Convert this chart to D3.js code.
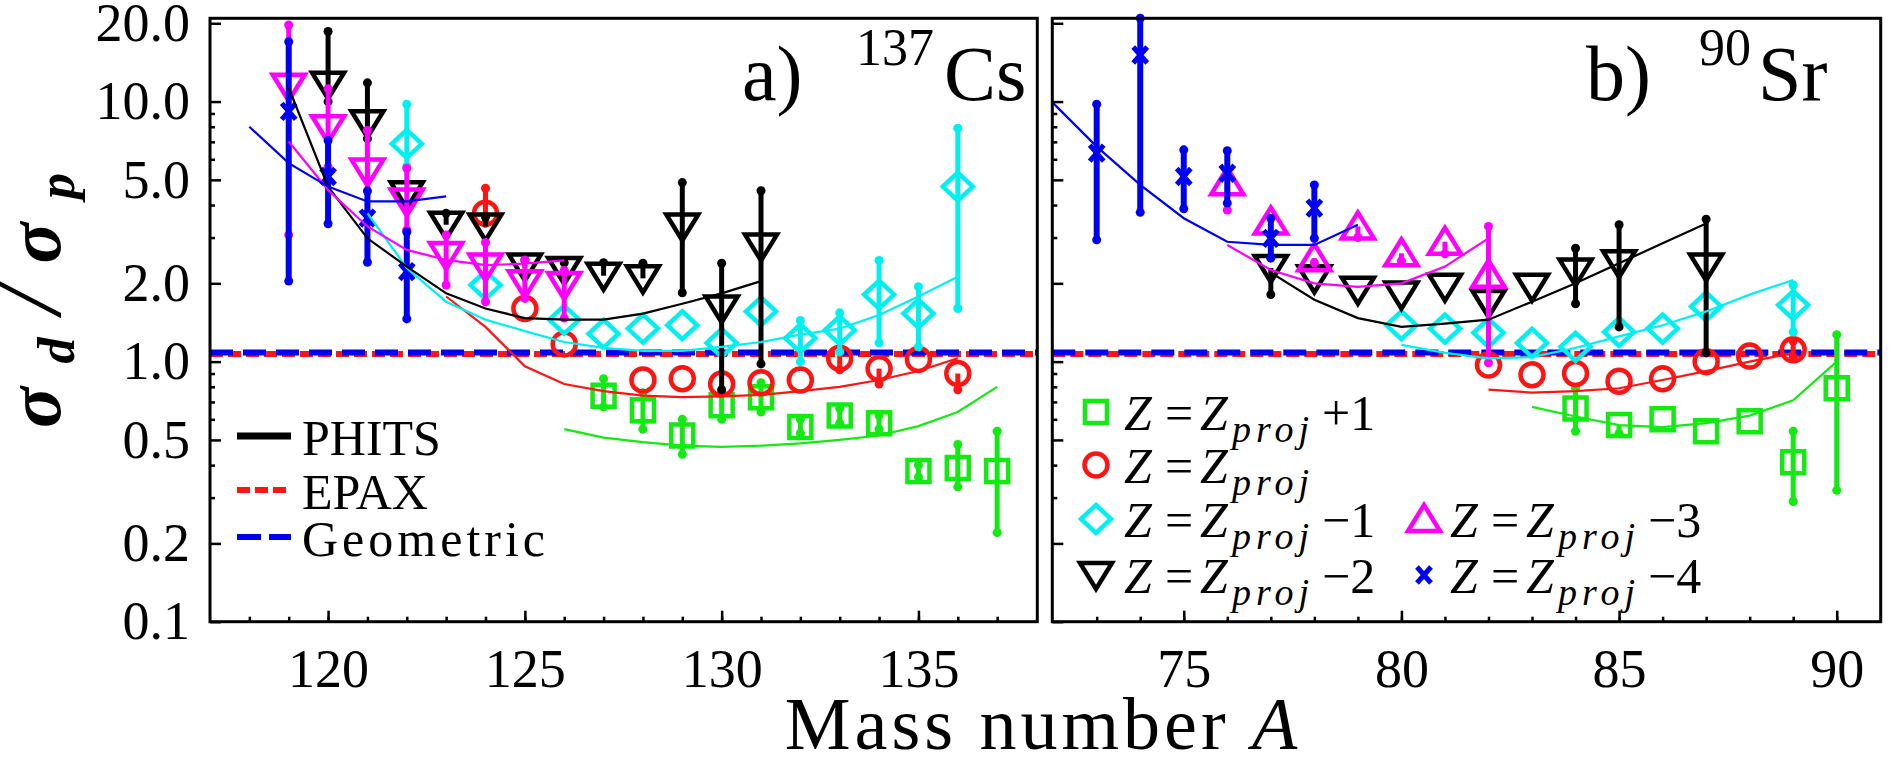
<!DOCTYPE html>
<html><head><meta charset="utf-8">
<script src="https://cdn.jsdelivr.net/npm/d3@7"></script>
<style>
body{margin:0;background:#fff;}
svg{display:block;}
text{font-family:"Liberation Serif","Times New Roman",serif;fill:#000;}
</style></head><body>
<svg id="chart" width="1892" height="765"></svg>
<script>
// ---------- axis values ----------
const yTickValues = [0.1, 0.2, 0.5, 1, 2, 5, 10, 20];
const yTickLabels = ["0.1", "0.2", "0.5", "1.0", "2.0", "5.0", "10.0", "20.0"];
const yMinorValues = [0.3, 0.4, 0.6, 0.7, 0.8, 0.9, 3, 4, 6, 7, 8, 9];
const csTicks = [120, 125, 130, 135];
const srTicks = [75, 80, 85, 90];
const epaxRatio = 1.07;
const geomRatio = 1.085;

// ---------- measured ratios, 137Cs: [A, ratio, lower, upper] ----------
const csZp1 = [[127,0.74,0.67,0.86],[128,0.65,0.55,0.76],[129,0.52,0.44,0.60],[130,0.68,0.60,0.76],[131,0.73,0.64,0.83],[132,0.56,0.53,0.60],[133,0.62,0.58,0.66],[134,0.58,0.55,0.62],[135,0.38,0.36,0.40],[136,0.39,0.33,0.48],[137,0.38,0.22,0.54]];
const csZ   = [[124,3.72,3.40,4.64],[125,1.60,1.60,1.60],[126,1.17,1.17,1.17],[128,0.85,0.85,0.85],[129,0.86,0.86,0.86],[130,0.82,0.82,0.82],[131,0.83,0.83,0.83],[132,0.85,0.85,0.85],[133,1.03,0.93,1.12],[134,0.94,0.82,0.94],[135,1.02,1.02,1.02],[136,0.90,0.78,0.90]];
const csZm1 = [[122,6.88,5.63,9.77],[124,1.97,1.97,1.97],[126,1.45,1.45,1.45],[127,1.28,1.28,1.28],[128,1.34,1.34,1.34],[129,1.38,1.38,1.38],[130,1.18,1.18,1.18],[131,1.56,1.56,1.56],[132,1.23,1.00,1.44],[133,1.32,1.09,1.54],[134,1.81,1.18,2.45],[135,1.53,1.14,1.94],[136,4.71,1.60,7.90]];
const csZm2 = [[120,11.6,10.0,18.6],[121,8.26,7.2,11.8],[122,4.4,4.4,4.4],[123,3.36,3.36,3.72],[124,3.31,3.31,3.60],[125,2.32,2.32,2.46],[126,2.25,2.25,2.40],[127,2.14,2.14,2.40],[128,2.09,2.09,2.39],[129,3.31,1.84,4.88],[130,1.60,0.78,2.39],[131,2.77,0.98,4.54]];
const csZm3 = [[119,11.4,3.07,19.7],[120,7.9,5.6,11.2],[121,5.38,3.72,7.74],[122,4.13,3.21,5.54],[123,2.57,1.97,3.07],[124,2.32,1.70,2.87],[125,2.00,1.75,2.46],[126,1.97,1.47,2.24]];
const csZm4 = [[119,9.16,2.04,17.0],[120,5.15,3.39,7.08],[121,3.56,2.41,4.53],[122,2.22,1.46,3.15]];

// ---------- PHITS, 137Cs: [A, ratio] ----------
const csPhitsZp1 = [[126,0.55],[127,0.51],[128,0.49],[129,0.475],[130,0.47],[131,0.475],[132,0.485],[133,0.50],[134,0.52],[135,0.565],[136,0.64],[137,0.80]];
const csPhitsZ   = [[123,1.78],[124,1.36],[125,0.96],[126,0.82],[127,0.77],[128,0.74],[129,0.73],[130,0.735],[131,0.745],[132,0.77],[133,0.80],[134,0.85],[135,0.92],[136,1.03]];
const csPhitsZm1 = [[121,3.72],[122,2.29],[123,1.70],[124,1.45],[125,1.31],[126,1.19],[127,1.13],[128,1.10],[129,1.10],[130,1.14],[131,1.19],[132,1.27],[133,1.34],[134,1.51],[135,1.78],[136,2.12]];
const csPhitsZm2 = [[119,11.3],[120,4.71],[121,2.98],[122,2.32],[123,1.83],[124,1.60],[125,1.47],[126,1.45],[127,1.45],[128,1.53],[129,1.67],[130,1.83],[131,2.04]];
const csPhitsZm3 = [[119,7.02],[120,4.57],[121,3.31],[122,2.69],[123,2.46],[124,2.35],[125,2.38],[126,2.45]];
const csPhitsZm4 = [[118,8.0],[119,5.8],[120,4.71],[121,4.13],[122,4.13],[123,4.32]];

// ---------- measured ratios, 90Sr: [A, ratio, lower, upper] ----------
const srZp1 = [[84,0.66,0.54,0.79],[85,0.57,0.53,0.57],[86,0.60,0.60,0.60],[87,0.54,0.54,0.54],[88,0.59,0.59,0.59],[89,0.41,0.29,0.54],[90,0.79,0.32,1.27]];
const srZ   = [[82,0.97,0.97,0.97],[83,0.89,0.89,0.89],[84,0.90,0.90,0.90],[85,0.84,0.84,0.84],[86,0.86,0.86,0.86],[87,1.00,1.00,1.00],[88,1.05,1.05,1.05],[89,1.11,1.04,1.20]];
const srZm1 = [[80,1.38,1.38,1.38],[81,1.34,1.34,1.34],[82,1.29,1.29,1.29],[83,1.18,1.18,1.18],[84,1.14,1.14,1.14],[85,1.30,1.30,1.30],[86,1.34,1.34,1.34],[87,1.63,1.63,1.63],[89,1.65,1.30,1.97]];
const srZm2 = [[77,2.29,1.81,2.29],[78,2.09,2.09,2.09],[79,1.89,1.89,1.89],[80,1.81,1.81,1.81],[81,1.94,1.94,1.94],[82,1.68,1.68,1.68],[83,1.94,1.94,1.94],[84,2.22,1.67,2.73],[85,2.39,1.36,3.36],[87,2.32,1.08,3.53]];
const srZm3 = [[76,4.9,3.83,4.9],[77,3.46,3.46,3.46],[78,2.50,2.40,2.50],[79,3.31,3.00,3.31],[80,2.61,2.44,2.61],[81,2.89,2.60,2.89],[82,2.16,0.99,3.31]];
const srZm4 = [[73,6.33,2.94,9.77],[74,15.1,3.75,20.9],[75,5.15,3.87,6.52],[76,5.30,4.07,6.47],[77,2.98,2.50,3.56],[78,3.89,2.98,4.78]];

// ---------- PHITS, 90Sr: [A, ratio] ----------
const srPhitsZp1 = [[83,0.67],[84,0.615],[85,0.57],[86,0.56],[87,0.58],[88,0.62],[89,0.71],[90,1.0]];
const srPhitsZ   = [[82,0.78],[83,0.76],[84,0.77],[85,0.79],[86,0.85],[87,0.92],[88,1.0],[89,1.08]];
const srPhitsZm1 = [[80,1.16],[81,1.08],[82,1.03],[83,1.04],[84,1.13],[85,1.25],[86,1.38],[87,1.56],[88,1.81],[89,2.06]];
const srPhitsZm2 = [[77,2.2],[78,1.73],[79,1.47],[80,1.36],[81,1.40],[82,1.45],[83,1.70],[84,2.00],[85,2.39],[86,2.85],[87,3.40]];
const srPhitsZm3 = [[76,2.81],[77,2.25],[78,2.00],[79,1.94],[80,2.00],[81,2.32],[82,2.98]];
const srPhitsZm4 = [[72,9.86],[73,6.71],[74,4.78],[75,3.56],[76,2.89],[77,2.81],[78,2.81],[79,3.36]];

// ---------- styles ----------
const seriesOrder = ["Zp1", "Z", "Zm1", "Zm2", "Zm3", "Zm4"];
const seriesColor = {Zp1:"#12ea12", Z:"#ff1414", Zm1:"#00f0f0", Zm2:"#000000", Zm3:"#ff00ff", Zm4:"#0000f0"};
const seriesSuffix = {Zp1:"+1", Z:"", Zm1:"\u22121", Zm2:"\u22122", Zm3:"\u22123", Zm4:"\u22124"};

const markerPath = {
  square:  "M-11,-11H11V11H-11Z",
  circle:  "M11.5,0A11.5,11.5 0 1,1 -11.5,0A11.5,11.5 0 1,1 11.5,0Z",
  diamond: "M0,-14L15,0L0,14L-15,0Z",
  tdown:   "M-16,-12L16,-12L0,14Z",
  tup:     "M-16,12L16,12L0,-14Z",
  cross:   "M-7,-8L7,8M-7,8L7,-8"
};

const svg = d3.select("#chart");
const plotTop = 18.3, plotBottom = 621.7;
const y = d3.scaleLog().domain([0.1, 20.9]).range([plotBottom, plotTop]);

const panels = [
  {
    x: d3.scaleLinear().domain([117.0, 138.02]).range([210, 1037.3]),
    ticks: csTicks, minor: d3.range(118, 138), showYLabels: true,
    points: {Zp1:csZp1, Z:csZ, Zm1:csZm1, Zm2:csZm2, Zm3:csZm3, Zm4:csZm4},
    curves: {Zp1:csPhitsZp1, Z:csPhitsZ, Zm1:csPhitsZm1, Zm2:csPhitsZm2, Zm3:csPhitsZm3, Zm4:csPhitsZm4},
    shapes: {Zp1:"square", Z:"circle", Zm1:"diamond", Zm2:"tdown", Zm3:"tdown", Zm4:"cross"}
  },
  {
    x: d3.scaleLinear().domain([71.98, 91.01]).range([1052.3, 1880.7]),
    ticks: srTicks, minor: d3.range(73, 91), showYLabels: false,
    points: {Zp1:srZp1, Z:srZ, Zm1:srZm1, Zm2:srZm2, Zm3:srZm3, Zm4:srZm4},
    curves: {Zp1:srPhitsZp1, Z:srPhitsZ, Zm1:srPhitsZm1, Zm2:srPhitsZm2, Zm3:srPhitsZm3, Zm4:srPhitsZm4},
    shapes: {Zp1:"square", Z:"circle", Zm1:"diamond", Zm2:"tdown", Zm3:"tup", Zm4:"cross"}
  }
];

function drawMarker(g, shape, color, cx, cy) {
  g.append("path")
    .attr("d", markerPath[shape])
    .attr("transform", `translate(${cx},${cy})`)
    .attr("fill", "none")
    .attr("stroke", color)
    .attr("stroke-width", shape === "cross" ? 5 : 4.5)
    .attr("stroke-linejoin", "miter");
}

panels.forEach(p => {
  const x = p.x;
  const [x0, x1] = x.range();
  const g = svg.append("g");

  // axes (ticks point inward)
  const styleAxis = (sel, keepText) => {
    sel.select(".domain").remove();
    sel.selectAll(".tick line").attr("stroke", "#000").attr("stroke-width", 2.5);
    if (keepText) {
      sel.selectAll(".tick text").style("font-size", "54px").style("font-family", '"Liberation Serif", serif').attr("fill", "#000");
    } else {
      sel.selectAll(".tick text").remove();
    }
  };
  g.append("g").attr("transform", `translate(0,${plotBottom})`)
    .call(d3.axisBottom(x).tickValues(p.minor).tickSize(-5)).call(styleAxis, false);
  g.append("g").attr("transform", `translate(0,${plotBottom})`)
    .call(d3.axisBottom(x).tickValues(p.ticks).tickSize(-11).tickPadding(27).tickFormat(d3.format("d"))).call(styleAxis, true);
  g.append("g").attr("transform", `translate(${x0},0)`)
    .call(d3.axisLeft(y).tickValues(yMinorValues).tickSize(-5)).call(styleAxis, false);
  g.append("g").attr("transform", `translate(${x0},0)`)
    .call(d3.axisLeft(y).tickValues(yTickValues).tickSize(-11).tickPadding(20)
      .tickFormat((d, i) => yTickLabels[i])).call(styleAxis, p.showYLabels);

  // EPAX and geometric ratios
  g.append("line").attr("x1", x0).attr("x2", x1).attr("y1", y(epaxRatio)).attr("y2", y(epaxRatio))
    .attr("stroke", "#ff1414").attr("stroke-width", 6).attr("stroke-dasharray", "13,5");
  g.append("line").attr("x1", x0).attr("x2", x1).attr("y1", y(geomRatio)).attr("y2", y(geomRatio))
    .attr("stroke", "#0000f0").attr("stroke-width", 6).attr("stroke-dasharray", "23,10");

  // measured points with error bars
  seriesOrder.forEach(k => {
    const color = seriesColor[k];
    const sg = g.append("g");
    p.points[k].forEach(([A, v, lo, hi]) => {
      const cx = x(A);
      if (lo !== v || hi !== v) {
        sg.append("line").attr("x1", cx).attr("x2", cx).attr("y1", y(lo)).attr("y2", y(hi))
          .attr("stroke", color).attr("stroke-width", k === "Zm4" ? 6 : 5);
        [lo, hi].forEach(e => {
          if (e !== v) sg.append("circle").attr("cx", cx).attr("cy", y(e)).attr("r", 4.5).attr("fill", color);
        });
      }
      drawMarker(sg, p.shapes[k], color, cx, y(v));
    });
  });

  // PHITS curves
  const line = d3.line().x(d => x(d[0])).y(d => y(d[1]));
  seriesOrder.forEach(k => {
    g.append("path").datum(p.curves[k]).attr("d", line)
      .attr("fill", "none").attr("stroke", seriesColor[k]).attr("stroke-width", 2.2);
  });

  // frame
  g.append("rect").attr("x", x0).attr("y", plotTop).attr("width", x1 - x0).attr("height", plotBottom - plotTop)
    .attr("fill", "none").attr("stroke", "#000").attr("stroke-width", 3);
});

// panel titles
function panelTitle(xa, xm, xe, letter, mass, elem) {
  svg.append("text").attr("x", xa).attr("y", 100).style("font-size", "78px").text(letter + ")");
  svg.append("text").attr("x", xm).attr("y", 65).style("font-size", "52px").text(mass);
  svg.append("text").attr("x", xe).attr("y", 100).style("font-size", "78px").text(elem);
}
panelTitle(742, 856, 944, "a", "137", "Cs");
panelTitle(1586, 1699, 1758, "b", "90", "Sr");

// axis titles
svg.append("text").attr("x", 1043).attr("y", 749).attr("text-anchor", "middle")
  .style("font-size", "74px").style("letter-spacing", "4px")
  .text("Mass number ")
  .append("tspan").style("font-style", "italic").text("A");

const yTitle = svg.append("text").attr("transform", "translate(60,428) rotate(-90)")
  .attr("text-anchor", "start").attr("textLength", 255).attr("lengthAdjust", "spacing")
  .style("font-weight", "bold").style("font-style", "italic");
yTitle.append("tspan").style("font-size", "76px").text("\u03c3");
yTitle.append("tspan").style("font-size", "52px").attr("dy", 14).text("d");
yTitle.append("tspan").style("font-size", "96px").style("font-weight", "normal").attr("dy", -14).text("/");
yTitle.append("tspan").style("font-size", "76px").text("\u03c3");
yTitle.append("tspan").style("font-size", "52px").attr("dy", 14).text("p");

// legend: models
const modelLegend = [
  {label: "PHITS", color: "#000", width: 7, dash: null},
  {label: "EPAX", color: "#ff1414", width: 6, dash: "13,5"},
  {label: "Geometric", color: "#0000f0", width: 6, dash: "24,8"}
];
const modelRowY = [455, 509, 556];
modelLegend.forEach((m, i) => {
  const by = modelRowY[i];
  svg.append("line").attr("x1", 237).attr("x2", 291).attr("y1", by - 19).attr("y2", by - 19)
    .attr("stroke", m.color).attr("stroke-width", m.width).attr("stroke-dasharray", m.dash);
  svg.append("text").attr("x", 302).attr("y", by).style("font-size", "50px")
    .style("letter-spacing", m.label === "Geometric" ? "4px" : "0px").text(m.label);
});

// legend: charge of fragments
const chargeLegend = [
  {k: "Zp1", shape: "square", col: 0, row: 0},
  {k: "Z", shape: "circle", col: 0, row: 1},
  {k: "Zm1", shape: "diamond", col: 0, row: 2},
  {k: "Zm3", shape: "tup", col: 1, row: 2},
  {k: "Zm2", shape: "tdown", col: 0, row: 3},
  {k: "Zm4", shape: "cross", col: 1, row: 3}
];
const rowBase = [430, 483, 537, 593];
const colMarkX = [1096, 1424];
const colTextX = [1124, 1450];
chargeLegend.forEach(e => {
  const by = rowBase[e.row];
  const tx = colTextX[e.col];
  drawMarker(svg, e.shape, seriesColor[e.k], colMarkX[e.col], by - 18);
  const t = svg.append("text").attr("y", by).style("font-size", "50px");
  t.append("tspan").attr("x", tx).style("font-style", "italic").text("Z");
  t.append("tspan").attr("x", tx + 41).text("=");
  t.append("tspan").attr("x", tx + 76).style("font-style", "italic").text("Z");
  t.append("tspan").attr("x", tx + 108).attr("dy", 12).style("font-style", "italic")
    .style("font-size", "38px").style("letter-spacing", "5px").text("proj");
  if (seriesSuffix[e.k]) t.append("tspan").attr("x", tx + 198).attr("dy", -12).text(seriesSuffix[e.k]);
});
</script>
</body></html>
